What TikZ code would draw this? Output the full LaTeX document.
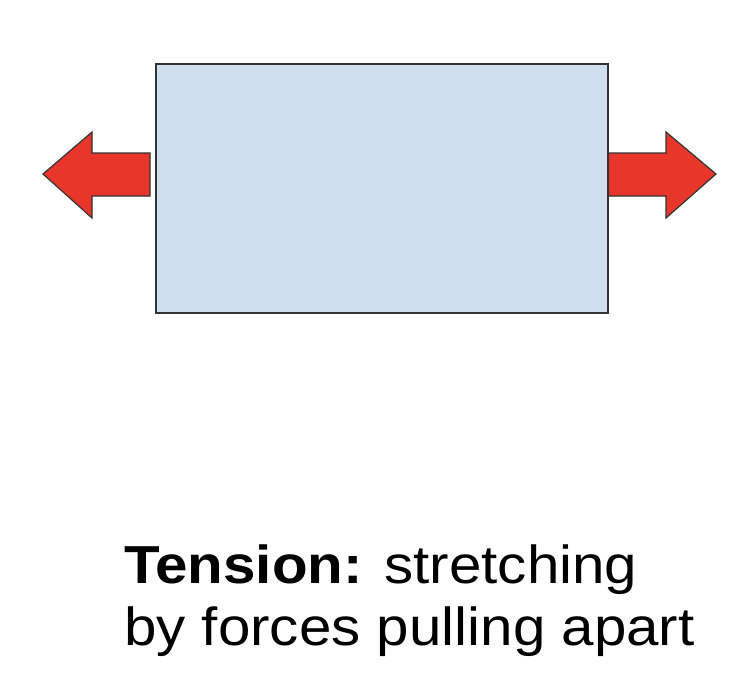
\documentclass[tikz,border=0pt]{standalone}
\usepackage{fontspec}
\setmainfont{Liberation Sans}
\newfontfamily\capfont[FakeStretch=1.09]{Liberation Sans}
\usepackage{tikz}
\usetikzlibrary{positioning}

\definecolor{boxblue}{HTML}{CFDFF0}
\definecolor{arrowred}{HTML}{E8372A}

\tikzset{
  block/.style={draw=black!80, line width=1.2pt, fill=boxblue, minimum width=452pt, minimum height=249pt, inner sep=0pt},
  force/.style={draw=black!80, line width=1.2pt, fill=arrowred, line join=miter},
  caption/.style={anchor=base west, inner sep=0pt, font=\capfont\fontsize{53.5}{62}\selectfont}
}

\begin{document}
\begin{tikzpicture}[x=1pt, y=-1pt]
    \useasboundingbox (0,0) rectangle (751,675);
    \node[block] (bar) at (382,188.5) {};
    % pulling forces
    \draw[force] (150,153) -- (92,153) -- (92,132) -- (43,174)
        -- (92,218) -- (92,196) -- (150,196) -- cycle;
    \draw[force] (bar.east |- 0,153) -- (666,153) -- (666,132) -- (716,174)
        -- (666,218) -- (666,196) -- (bar.east |- 0,196) -- cycle;
    \node[caption] (line1) at (124,583) {\textbf{Tension:} stretching};
    \node[caption] (line2) at (124,645) {by forces pulling apart};
\end{tikzpicture}
\end{document}
